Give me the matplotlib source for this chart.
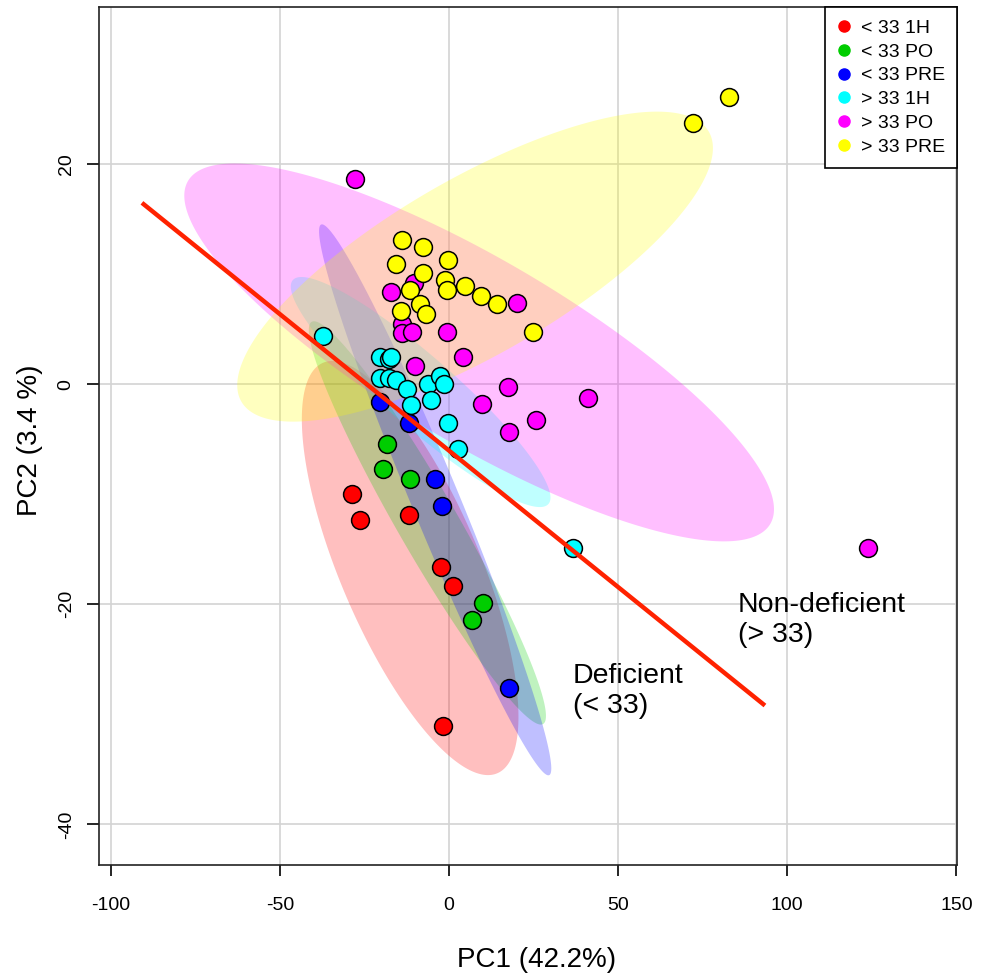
import matplotlib
matplotlib.use("Agg")
import matplotlib.pyplot as plt
import numpy as np

plt.rcParams['font.family'] = ['Liberation Sans', 'DejaVu Sans']
plt.rcParams['axes.unicode_minus'] = False

# group labels and colours
groups = ["< 33 1H", "< 33 PO", "< 33 PRE", "> 33 1H", "> 33 PO", "> 33 PRE"]
colors = ["#FF0000", "#00CD00", "#0000FF", "#00FFFF", "#FF00FF", "#FFFF00"]

# PC scores
pc1_1h_lo = [-28.8, -26.3, -11.9, -2.4, 1.2, -1.7]
pc2_1h_lo = [-10.0, -12.3, -11.9, -16.6, -18.3, -31.1]

pc1_po_lo = [-18.2, -19.5, -11.4, 10.1, 6.8]
pc2_po_lo = [-5.4, -7.7, -8.6, -19.9, -21.4]

pc1_pre_lo = [-20.3, -11.7, -4.1, -2.1, 17.7]
pc2_pre_lo = [-1.6, -3.5, -8.6, -11.1, -27.6]

pc1_1h_hi = [-37.2, -20.4, -17.9, -17.3, -20.3, -17.7, -15.8, -12.5,
             -11.2, -6.1, -2.7, -1.4, -5.3, -0.2, 2.7, 36.7]
pc2_1h_hi = [4.4, 2.5, 2.3, 2.5, 0.6, 0.6, 0.4, -0.4,
             -1.9, 0.0, 0.8, 0.0, -1.4, -3.5, -5.9, -14.9]

pc1_po_hi = [-27.8, -17.1, -10.3, -14.0, -14.0, -11.0, -0.7, 4.1,
             -10.1, 17.5, 9.7, 17.7, 25.6, 20.0, 41.1, 123.8]
pc2_po_hi = [18.7, 8.4, 9.2, 5.5, 4.7, 4.8, 4.8, 2.5,
             1.7, -0.2, -1.8, -4.3, -3.2, 7.4, -1.2, -14.9]

pc1_pre_hi = [72.0, 82.8, -13.8, -7.6, -15.8, -0.2, -7.6, -11.5, -1.2,
              -0.7, 4.7, 9.4, 14.1, -8.6, -6.9, -14.3, 24.9]
pc2_pre_hi = [23.8, 26.1, 13.1, 12.5, 10.9, 11.3, 10.1, 8.6, 9.5,
              8.6, 8.9, 8.0, 7.3, 7.3, 6.4, 6.7, 4.8]

# ellipses: centre, major semi-axis vector, minor semi-axis vector (data units)
ell_centre = [(-11.5, -16.7), (-6.4, -12.6), (-4.1, -10.5),
              (-8.4, -0.7), (8.9, 2.9), (7.7, 10.7)]
ell_major = [(25.75, -18.66), (34.2, -18.28), (33.7, -25.03),
             (37.78, -10.18), (86.08, -15.59), (69.11, 12.27)]
ell_minor = [(-19.04, -2.48), (-7.69, -1.36), (-6.56, -0.83),
             (-6.83, -2.39), (-13.8, -7.21), (13.01, -6.93)]

# separating line
line_x = [-90.8, 93.4]
line_y = [16.5, -29.2]

xs = [pc1_1h_lo, pc1_po_lo, pc1_pre_lo, pc1_1h_hi, pc1_po_hi, pc1_pre_hi]
ys = [pc2_1h_lo, pc2_po_lo, pc2_pre_lo, pc2_1h_hi, pc2_po_hi, pc2_pre_hi]

fig = plt.figure(figsize=(9.84, 9.77), dpi=100)
ax = fig.add_axes([0.1006, 0.1146, 0.8720, 0.8782])

t = np.linspace(0, 2 * np.pi, 300)
for c, M, m, col in zip(ell_centre, ell_major, ell_minor, colors):
    ex = c[0] + M[0] * np.cos(t) + m[0] * np.sin(t)
    ey = c[1] + M[1] * np.cos(t) + m[1] * np.sin(t)
    ax.fill(ex, ey, color=col, alpha=0.25, lw=0, zorder=2)

for x, y, col in zip(xs, ys, colors):
    ax.scatter(x, y, s=165, c=col, edgecolors="black", linewidths=1.1, zorder=3)

ax.plot(line_x, line_y, color="#FF2200", lw=3.2, zorder=4, solid_capstyle="butt")

ax.text(85.4, -18.9, "Non-deficient\n(> 33)", fontsize=20.5, va="top", ha="left",
        linespacing=1.2, zorder=5)
ax.text(36.6, -25.3, "Deficient\n(< 33)", fontsize=20.5, va="top", ha="left",
        linespacing=1.2, zorder=5)

ax.set_xlim(-103.5, 150.2)
ax.set_ylim(-43.7, 34.3)
ax.set_xticks([-100, -50, 0, 50, 100, 150])
ax.set_yticks([-40, -20, 0, 20])
ax.grid(True, color="#D3D3D3", lw=1.2, zorder=0)
ax.set_axisbelow(True)
ax.tick_params(axis="x", length=8, width=1.2, labelsize=14, pad=15)
ax.tick_params(axis="y", length=8.5, width=1.2, labelsize=14, pad=9)
for lab in ax.get_yticklabels():
    lab.set_rotation(90)
    lab.set_va("center")
for s in ax.spines.values():
    s.set_linewidth(1.2)
    s.set_color("#222222")

handles = [plt.Line2D([], [], ls="", marker="o", ms=8, mfc=col, mec=col) for col in colors]
leg = ax.legend(handles, groups, loc="upper right", bbox_to_anchor=(1, 1),
                borderaxespad=0, fontsize=14, fancybox=False, framealpha=1,
                edgecolor="black", labelspacing=0.32, handletextpad=0.5,
                handlelength=0.7, borderpad=0.62)
leg.get_frame().set_linewidth(1.2)
leg.set_zorder(6)

fig.text(537 / 984, 1 - 960 / 977, "PC1 (42.2%)", fontsize=20, ha="center", va="center")
fig.text(30 / 984, 1 - 440 / 977, "PC2 (3.4 %)", fontsize=20, ha="center", va="center",
         rotation=90)

plt.savefig("out.png", dpi=100)
